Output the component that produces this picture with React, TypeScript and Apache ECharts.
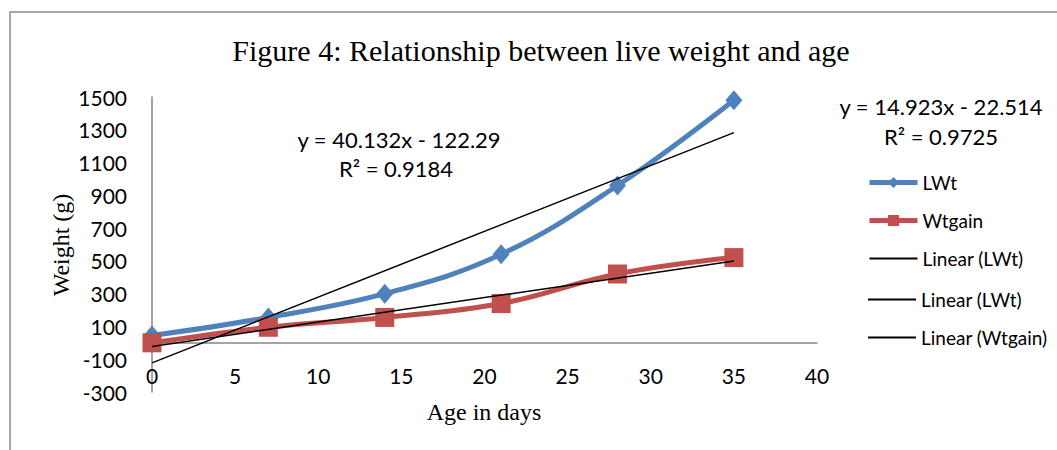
import React, { useEffect, useRef } from "react";
import * as echarts from "echarts";

const DAYS = [0, 7, 14, 21, 28, 35];
const LWT = [45, 155, 300, 540, 960, 1480];
const WTGAIN = [0, 95, 155, 240, 420, 520];

const LWT_SLOPE = 40.132;
const LWT_INTERCEPT = -122.29;
const LWT_R2 = "0.9184";
const WTG_SLOPE = 14.923;
const WTG_INTERCEPT = -22.514;
const WTG_R2 = "0.9725";
const TREND_X = [0, 35];

const TITLE = "Figure 4: Relationship between live weight and age";
const Y_NAME = "Weight (g)";
const X_NAME = "Age in days";

const SANS = "Lato, 'Noto Sans', sans-serif";
const SERIF = "'Liberation Serif', 'DejaVu Serif', serif";

function eq(slope: number, intercept: number) {
  const sign = intercept < 0 ? "-" : "+";
  return `y = ${slope}x ${sign} ${Math.abs(intercept)}`;
}

export default function App() {
  const ref = useRef<HTMLDivElement>(null);
  useEffect(() => {
    if (!ref.current) return;
    const chart = echarts.init(ref.current, undefined, { renderer: "svg" });
    const pts = (ys: number[]) => DAYS.map((d, i) => [d, ys[i]]);
    const trend = (s: number, b: number) => TREND_X.map((x) => [x, s * x + b]);
    const legendText = { fontFamily: SANS, fontSize: 19, color: "#000" };
    const trendItem = (name: string) => ({ name, itemStyle: { opacity: 0 } });
    const dataItem = (name: string) => ({ name, lineStyle: { width: 5 } });
    chart.setOption({
      animation: false,
      backgroundColor: "#ffffff",
      grid: { left: 152, right: 240, top: 97, bottom: 58, containLabel: false },
      xAxis: {
        type: "value",
        min: 0,
        max: 40,
        interval: 5,
        offset: -49,
        axisLine: { show: true, onZero: false, lineStyle: { color: "#878787", width: 1.5 } },
        axisTick: { show: false },
        splitLine: { show: false },
        axisLabel: { margin: 22, fontFamily: SANS, fontSize: 21, color: "#000" },
      },
      yAxis: {
        type: "value",
        min: -300,
        max: 1500,
        interval: 200,
        axisLine: { show: true, onZero: false, lineStyle: { color: "#878787", width: 1.5 } },
        axisTick: { show: false },
        splitLine: { show: false },
        axisLabel: {
          margin: 25,
          fontFamily: SANS,
          fontSize: 21,
          color: "#000",
          formatter: (v: number) => String(v),
        },
      },
      legend: [
        {
          orient: "vertical",
          left: 862,
          top: 168,
          itemWidth: 48,
          itemHeight: 14,
          itemGap: 19,
          textStyle: legendText,
          data: [dataItem("LWt"), dataItem("Wtgain"), trendItem("Linear (LWt)")],
        },
        {
          orient: "vertical",
          left: 862,
          top: 285,
          itemWidth: 48,
          itemHeight: 14,
          itemGap: 19,
          textStyle: legendText,
          data: [trendItem("Linear (LWt)"), trendItem("Linear (Wtgain)")],
        },
      ],
      series: [
        {
          name: "Linear (LWt)",
          type: "line",
          data: trend(LWT_SLOPE, LWT_INTERCEPT),
          symbol: "none",
          lineStyle: { color: "#000", width: 1.5 },
          itemStyle: { color: "#000" },
          z: 3,
        },
        {
          name: "Linear (Wtgain)",
          type: "line",
          data: trend(WTG_SLOPE, WTG_INTERCEPT),
          symbol: "none",
          lineStyle: { color: "#000", width: 1.5 },
          itemStyle: { color: "#000" },
          z: 3,
        },
        {
          name: "LWt",
          type: "line",
          data: pts(LWT),
          smooth: 0.4,
          symbol: "diamond",
          symbolSize: [17, 20],
          lineStyle: { color: "#4F81BD", width: 5 },
          itemStyle: { color: "#4F81BD" },
          z: 2,
        },
        {
          name: "Wtgain",
          type: "line",
          data: pts(WTGAIN),
          smooth: 0.4,
          symbol: "rect",
          symbolSize: 19,
          lineStyle: { color: "#C0504D", width: 5 },
          itemStyle: { color: "#C0504D" },
          z: 2,
        },
      ],
      graphic: [
        {
          type: "rect",
          shape: { x: 10, y: 12, width: 1100, height: 500 },
          style: { fill: "none", stroke: "#8c8c8c", lineWidth: 1.5 },
          silent: true,
          z: -10,
        },
        {
          type: "text",
          x: 541,
          y: 50,
          style: {
            text: TITLE,
            font: `30px ${SERIF}`,
            fill: "#000",
            textAlign: "center",
            textVerticalAlign: "middle",
          },
        },
        {
          type: "text",
          x: 61,
          y: 245,
          rotation: Math.PI / 2,
          style: {
            text: Y_NAME,
            font: `24px ${SERIF}`,
            fill: "#000",
            textAlign: "center",
            textVerticalAlign: "middle",
          },
        },
        {
          type: "text",
          x: 484,
          y: 412,
          style: {
            text: X_NAME,
            font: `24px ${SERIF}`,
            fill: "#000",
            textAlign: "center",
            textVerticalAlign: "middle",
          },
        },
        {
          type: "text",
          x: 399,
          y: 139,
          style: {
            text: eq(LWT_SLOPE, LWT_INTERCEPT),
            font: `22px ${SANS}`,
            fill: "#000",
            textAlign: "center",
            textVerticalAlign: "middle",
          },
        },
        {
          type: "text",
          x: 396,
          y: 168,
          style: {
            text: `R² = ${LWT_R2}`,
            font: `22px ${SANS}`,
            fill: "#000",
            textAlign: "center",
            textVerticalAlign: "middle",
          },
        },
        {
          type: "text",
          x: 941,
          y: 106,
          style: {
            text: eq(WTG_SLOPE, WTG_INTERCEPT),
            font: `22px ${SANS}`,
            fill: "#000",
            textAlign: "center",
            textVerticalAlign: "middle",
          },
        },
        {
          type: "text",
          x: 941,
          y: 136,
          style: {
            text: `R² = ${WTG_R2}`,
            font: `22px ${SANS}`,
            fill: "#000",
            textAlign: "center",
            textVerticalAlign: "middle",
          },
        },
      ],
    });
    return () => chart.dispose();
  }, []);
  return (
    <div
      ref={ref}
      style={{ position: "absolute", left: 0, top: 0, width: 1057, height: 450 }}
    />
  );
}
